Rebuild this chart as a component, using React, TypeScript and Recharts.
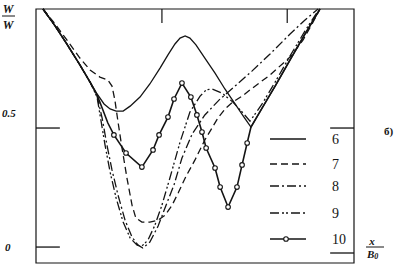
import React from 'react';
import { LineChart, Line, XAxis, YAxis, Legend, ReferenceArea, ReferenceLine } from 'recharts';

// curve values: x is distance across the plate (0..1), y is W/W
const curve6 = [
  { x: 0.022, y: 1.0 }, { x: 0.06, y: 0.929 }, { x: 0.097, y: 0.853 }, { x: 0.138, y: 0.765 },
  { x: 0.17, y: 0.693 }, { x: 0.192, y: 0.643 }, { x: 0.214, y: 0.601 }, { x: 0.233, y: 0.58 },
  { x: 0.252, y: 0.571 }, { x: 0.274, y: 0.571 }, { x: 0.296, y: 0.592 }, { x: 0.327, y: 0.63 },
  { x: 0.358, y: 0.685 }, { x: 0.39, y: 0.752 }, { x: 0.415, y: 0.807 }, { x: 0.437, y: 0.853 },
  { x: 0.453, y: 0.878 }, { x: 0.469, y: 0.887 }, { x: 0.484, y: 0.878 }, { x: 0.503, y: 0.849 },
  { x: 0.531, y: 0.794 }, { x: 0.563, y: 0.731 }, { x: 0.594, y: 0.664 }, { x: 0.626, y: 0.601 },
  { x: 0.654, y: 0.546 }, { x: 0.676, y: 0.504 }, { x: 0.711, y: 0.584 }, { x: 0.752, y: 0.676 },
  { x: 0.799, y: 0.786 }, { x: 0.846, y: 0.895 }, { x: 0.893, y: 1.0 },
];

const curve7 = [
  { x: 0.022, y: 1.0 }, { x: 0.06, y: 0.937 }, { x: 0.097, y: 0.87 }, { x: 0.138, y: 0.794 },
  { x: 0.17, y: 0.744 }, { x: 0.201, y: 0.714 }, { x: 0.226, y: 0.702 }, { x: 0.239, y: 0.676 },
  { x: 0.248, y: 0.618 }, { x: 0.258, y: 0.525 }, { x: 0.27, y: 0.42 }, { x: 0.286, y: 0.29 },
  { x: 0.302, y: 0.176 }, { x: 0.314, y: 0.122 }, { x: 0.333, y: 0.105 }, { x: 0.358, y: 0.105 },
  { x: 0.384, y: 0.113 }, { x: 0.406, y: 0.134 }, { x: 0.428, y: 0.176 }, { x: 0.447, y: 0.227 },
  { x: 0.472, y: 0.298 }, { x: 0.5, y: 0.366 }, { x: 0.531, y: 0.45 }, { x: 0.572, y: 0.542 },
  { x: 0.597, y: 0.584 }, { x: 0.619, y: 0.609 }, { x: 0.648, y: 0.634 }, { x: 0.673, y: 0.66 },
  { x: 0.736, y: 0.723 }, { x: 0.799, y: 0.798 }, { x: 0.84, y: 0.87 }, { x: 0.868, y: 0.937 },
  { x: 0.893, y: 1.0 },
];

const curve8 = [
  { x: 0.022, y: 1.0 }, { x: 0.06, y: 0.929 }, { x: 0.097, y: 0.853 }, { x: 0.138, y: 0.765 },
  { x: 0.17, y: 0.693 }, { x: 0.192, y: 0.634 }, { x: 0.208, y: 0.542 }, { x: 0.223, y: 0.429 },
  { x: 0.239, y: 0.324 }, { x: 0.258, y: 0.218 }, { x: 0.28, y: 0.113 }, { x: 0.302, y: 0.042 },
  { x: 0.321, y: 0.008 }, { x: 0.336, y: -0.004 }, { x: 0.358, y: 0.021 }, { x: 0.384, y: 0.088 },
  { x: 0.409, y: 0.176 }, { x: 0.434, y: 0.261 }, { x: 0.459, y: 0.374 }, { x: 0.491, y: 0.475 },
  { x: 0.531, y: 0.555 }, { x: 0.579, y: 0.622 }, { x: 0.626, y: 0.676 }, { x: 0.679, y: 0.739 },
  { x: 0.736, y: 0.811 }, { x: 0.799, y: 0.895 }, { x: 0.846, y: 0.954 }, { x: 0.887, y: 1.0 },
];

const curve9 = [
  { x: 0.022, y: 1.0 }, { x: 0.06, y: 0.929 }, { x: 0.097, y: 0.853 }, { x: 0.138, y: 0.765 },
  { x: 0.17, y: 0.693 }, { x: 0.192, y: 0.63 }, { x: 0.204, y: 0.534 }, { x: 0.217, y: 0.429 },
  { x: 0.233, y: 0.315 }, { x: 0.252, y: 0.206 }, { x: 0.274, y: 0.105 }, { x: 0.296, y: 0.038 },
  { x: 0.318, y: 0.008 }, { x: 0.333, y: 0.004 }, { x: 0.352, y: 0.029 }, { x: 0.374, y: 0.092 },
  { x: 0.396, y: 0.176 }, { x: 0.421, y: 0.29 }, { x: 0.453, y: 0.441 }, { x: 0.484, y: 0.567 },
  { x: 0.516, y: 0.634 }, { x: 0.535, y: 0.66 }, { x: 0.553, y: 0.664 }, { x: 0.585, y: 0.647 },
  { x: 0.619, y: 0.609 }, { x: 0.651, y: 0.563 }, { x: 0.673, y: 0.529 }, { x: 0.711, y: 0.601 },
  { x: 0.752, y: 0.693 }, { x: 0.799, y: 0.803 }, { x: 0.846, y: 0.908 }, { x: 0.887, y: 0.992 },
];

const curve10 = [
  { x: 0.022, y: 1.0 }, { x: 0.06, y: 0.929 }, { x: 0.097, y: 0.853 }, { x: 0.138, y: 0.765 },
  { x: 0.17, y: 0.693 }, { x: 0.192, y: 0.639 }, { x: 0.208, y: 0.584 }, { x: 0.226, y: 0.521 },
  { x: 0.245, y: 0.471 }, { x: 0.283, y: 0.395 }, { x: 0.333, y: 0.336 }, { x: 0.368, y: 0.408 },
  { x: 0.387, y: 0.471 }, { x: 0.415, y: 0.546 }, { x: 0.434, y: 0.622 }, { x: 0.459, y: 0.689 },
  { x: 0.487, y: 0.63 }, { x: 0.506, y: 0.555 }, { x: 0.522, y: 0.483 }, { x: 0.535, y: 0.416 },
  { x: 0.563, y: 0.332 }, { x: 0.579, y: 0.252 }, { x: 0.604, y: 0.168 }, { x: 0.632, y: 0.252 },
  { x: 0.648, y: 0.345 }, { x: 0.664, y: 0.437 }, { x: 0.676, y: 0.504 }, { x: 0.711, y: 0.584 },
  { x: 0.752, y: 0.676 }, { x: 0.799, y: 0.786 }, { x: 0.846, y: 0.895 }, { x: 0.893, y: 1.0 },
];

const curveNames = ['6', '7', '8', '9', '10'];
const leftTicks = [0, 0.5];
const rightTicks = [-0.025, 0.5];
const topTicks = [0.396, 0.79];

const X_DOMAIN = [0, 1];
const Y_DOMAIN = [-0.067, 1];
const INK = '#141414';
const SERIF = '"Liberation Serif", "DejaVu Serif", serif';
const dashes = ['', '7 4', '9 3 2 3', '9 3 2 2 2 3', ''];
// circles on curve 10 only between the two dips
const markFrom = 0.24;
const markTo = 0.67;
// short inward tick marks, in data units
const sideTickLen = 0.075;
const topTickLen = 0.059;

const CircleDot = (props: any) => {
  const { cx, cy, payload, index } = props;
  if (payload.x < markFrom || payload.x > markTo) return <g key={index} />;
  return <circle key={index} cx={cx} cy={cy} r={2.3} fill="#fff" stroke={INK} strokeWidth={1.1} />;
};

const LegendBox = () => (
  <svg width={397} height={264} style={{ position: 'absolute', left: 0, top: 0 }}>
    {curveNames.map((name, i) => {
      const rowY = [139, 164, 186, 213, 239][i];
      return (
        <g key={name}>
          <line x1={270} x2={306} y1={rowY} y2={rowY} stroke={INK} strokeWidth={1.4} strokeDasharray={dashes[i] || undefined} />
          {i === 4 && <circle cx={286} cy={rowY} r={2.3} fill="#fff" stroke={INK} strokeWidth={1.1} />}
          <text x={332} y={rowY + 5} fontFamily={SERIF} fontSize={14} fill={INK}>{name}</text>
        </g>
      );
    })}
  </svg>
);

export default function App() {
  const series = [curve6, curve7, curve8, curve9, curve10];
  return (
    <div style={{ position: 'absolute', left: 0, top: 0, width: 397, height: 264, background: '#fff' }}>
      <LineChart width={397} height={264} margin={{ top: 9, right: 43, bottom: 1, left: 36 }}>
        <XAxis type="number" dataKey="x" domain={X_DOMAIN} hide />
        <YAxis type="number" domain={Y_DOMAIN} hide />
        <ReferenceArea x1={X_DOMAIN[0]} x2={X_DOMAIN[1]} y1={Y_DOMAIN[0]} y2={Y_DOMAIN[1]} fill="none" stroke={INK} strokeWidth={1.2} fillOpacity={0} />
        {leftTicks.map(v => (
          <ReferenceLine key={'l' + v} segment={[{ x: 0, y: v }, { x: sideTickLen, y: v }]} stroke={INK} strokeWidth={1.3} />
        ))}
        {rightTicks.map(v => (
          <ReferenceLine key={'r' + v} segment={[{ x: 1 - sideTickLen, y: v }, { x: 1, y: v }]} stroke={INK} strokeWidth={1.3} />
        ))}
        {topTicks.map(v => (
          <ReferenceLine key={'t' + v} segment={[{ x: v, y: 1 }, { x: v, y: 1 - topTickLen }]} stroke={INK} strokeWidth={1.2} />
        ))}
        {series.map((data, i) => (
          <Line
            key={curveNames[i]}
            data={data}
            dataKey="y"
            type="linear"
            stroke={INK}
            strokeWidth={i === 4 ? 1.6 : 1.3}
            strokeDasharray={dashes[i] || undefined}
            dot={i === 4 ? <CircleDot /> : false}
            activeDot={false}
            isAnimationActive={false}
          />
        ))}
        <Legend
          layout="horizontal"
          verticalAlign="middle"
          align="center"
          content={() => <LegendBox />}
          wrapperStyle={{ left: 0, top: 0, width: 397, height: 264, pointerEvents: 'none' }}
        />
      </LineChart>
      <svg width={397} height={264} style={{ position: 'absolute', left: 0, top: 0, pointerEvents: 'none' }}>
        <g fontFamily={SERIF} fontWeight="bold" fill={INK}>
          <text x={8} y={13} fontSize={12} fontStyle="italic" textAnchor="middle">W</text>
          <line x1={2} x2={15} y1={16} y2={16} stroke={INK} strokeWidth={1} />
          <text x={8} y={29} fontSize={12} fontStyle="italic" textAnchor="middle">W</text>
          <text x={2} y={117} fontSize={11} fontStyle="italic">0.5</text>
          <text x={5} y={251} fontSize={11} fontStyle="italic">0</text>
          <text x={384} y={135} fontSize={11}>б)</text>
          <text x={372} y={245} fontSize={11} fontStyle="italic" textAnchor="middle">x</text>
          <line x1={366} x2={384} y1={247} y2={247} stroke={INK} strokeWidth={1} />
          <text x={367} y={258} fontSize={11} fontStyle="italic">B<tspan fontSize={8} dy={1}>0</tspan></text>
        </g>
      </svg>
    </div>
  );
}
